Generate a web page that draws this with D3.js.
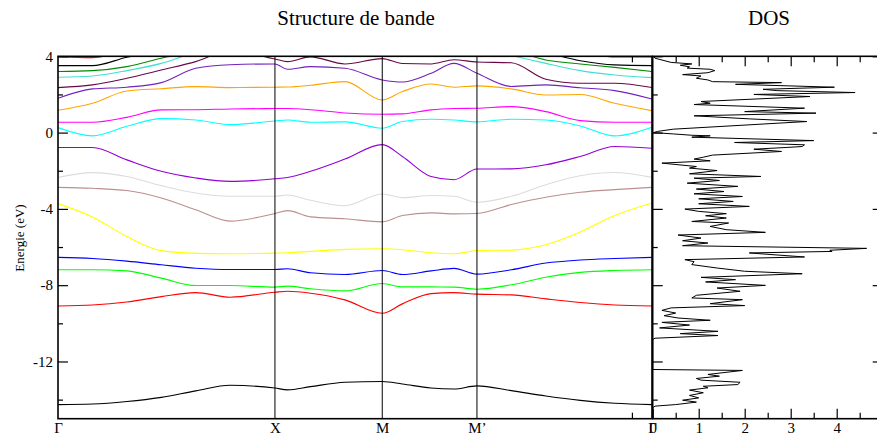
<!DOCTYPE html>
<html>
<head>
<meta charset="utf-8">
<script src="https://cdn.jsdelivr.net/npm/d3@7"></script>
<style>
body { margin: 0; background: #fff; }
</style>
</head>
<body>
<svg id="chart" width="877" height="439"></svg>
<script>
// k-path positions of the high symmetry points
var kLabelNames = ["Γ", "X", "M", "M’", "Γ"];
var kLabelPos = [0, 0.378, 0.565, 0.73, 1.035];

// k grid shared by all bands
var kPoints = [0, 0.06, 0.12, 0.18, 0.24, 0.30, 0.378, 0.40, 0.44, 0.50, 0.565, 0.60, 0.65, 0.69, 0.73, 0.79, 0.85, 0.91, 0.97, 1.035];

// band energies (eV), bottom to top
var band01 = [-14.26, -14.23, -14.10, -13.88, -13.54, -13.25, -13.39, -13.49, -13.32, -13.09, -13.05, -13.18, -13.39, -13.44, -13.28, -13.53, -13.81, -14.04, -14.19, -14.26];
var band02 = [-9.09, -9.04, -8.88, -8.60, -8.39, -8.63, -8.37, -8.32, -8.42, -8.77, -9.47, -8.98, -8.44, -8.39, -8.47, -8.51, -8.72, -8.91, -9.04, -9.09];
var band03 = [-7.19, -7.19, -7.25, -7.63, -8.02, -8.02, -8.10, -8.05, -8.19, -8.30, -7.91, -8.09, -8.09, -8.10, -8.21, -7.98, -7.58, -7.33, -7.23, -7.19];
var band04 = [-6.54, -6.60, -6.74, -6.93, -7.11, -7.18, -7.18, -7.14, -7.35, -7.44, -7.23, -7.44, -7.25, -7.12, -7.42, -7.19, -6.84, -6.68, -6.60, -6.54];
var band05 = [-3.72, -4.42, -5.45, -6.19, -6.33, -6.35, -6.32, -6.30, -6.23, -6.12, -6.09, -6.14, -6.30, -6.35, -6.18, -6.16, -5.88, -5.21, -4.35, -3.69];
var band06 = [-2.87, -2.92, -3.04, -3.43, -4.05, -4.64, -4.24, -4.09, -4.42, -4.52, -4.68, -4.35, -4.21, -4.26, -4.24, -3.77, -3.39, -3.13, -2.99, -2.87];
var band07 = [-2.35, -2.10, -2.30, -2.78, -3.17, -3.34, -3.34, -3.27, -3.55, -3.83, -3.22, -3.41, -3.30, -3.34, -3.65, -3.34, -2.73, -2.26, -2.09, -2.35];
var band08 = [-0.78, -0.78, -1.43, -2.03, -2.38, -2.56, -2.42, -2.35, -2.03, -1.39, -0.63, -1.25, -2.30, -2.47, -1.91, -1.90, -1.69, -1.25, -0.73, -0.82];
var band09 = [0.26, -0.17, 0.33, 0.73, 0.66, 0.42, 0.61, 0.66, 0.54, 0.56, 0.23, 0.58, 0.70, 0.66, 0.56, 0.70, 0.66, 0.35, -0.17, 0.28];
var band10 = [0.54, 0.54, 0.80, 1.19, 1.20, 1.24, 1.26, 1.26, 1.20, 1.03, 0.96, 0.98, 1.19, 1.26, 1.28, 1.36, 1.10, 0.63, 0.54, 0.54];
var band11 = [1.17, 1.54, 2.18, 2.30, 2.41, 2.36, 2.38, 2.39, 2.48, 2.67, 1.71, 2.15, 2.55, 2.38, 2.45, 2.29, 1.97, 2.00, 1.54, 1.15];
var band12 = [1.80, 2.29, 2.38, 2.62, 3.37, 3.56, 3.60, 3.32, 3.46, 3.37, 2.76, 2.65, 3.11, 3.63, 3.11, 2.42, 2.50, 2.35, 2.20, 1.76];
var band13 = [2.36, 2.50, 2.85, 3.28, 3.72, 4.30, 3.86, 3.72, 3.97, 3.60, 3.88, 3.62, 3.60, 3.82, 3.70, 3.66, 2.80, 2.59, 2.59, 2.36];
var band14 = [2.90, 2.97, 3.25, 3.63, 4.20, 4.50, 4.70, 4.80, 4.80, 4.80, 4.90, 4.80, 4.70, 4.60, 4.50, 4.05, 3.63, 3.25, 3.02, 2.88];
var band15 = [3.20, 3.25, 3.46, 3.90, 4.30, 4.60, 4.80, 4.90, 4.90, 5.00, 5.00, 5.00, 4.90, 4.70, 4.50, 4.30, 3.81, 3.60, 3.42, 3.20];
var band16 = [3.51, 3.51, 3.95, 4.30, 4.60, 4.80, 5.00, 5.00, 5.00, 5.10, 5.20, 5.10, 5.00, 4.90, 4.80, 4.60, 4.20, 3.77, 3.55, 3.51];
var band17 = [3.97, 3.93, 4.30, 4.60, 4.90, 5.10, 5.30, 5.30, 5.30, 5.40, 5.50, 5.40, 5.30, 5.20, 5.10, 4.90, 4.60, 4.30, 3.96, 3.97];

var bands = [band01, band02, band03, band04, band05, band06, band07, band08, band09,
             band10, band11, band12, band13, band14, band15, band16, band17];

// grace colour cycle
var bandColors = ["#000000", "#ff0000", "#00ff00", "#0000ff", "#ffff00", "#bc8f8f", "#dcdcdc", "#9400d3",
                  "#00ffff", "#ff00ff", "#ffa500", "#7221bc", "#670748", "#40e0d0", "#008b00", "#000000", "#ff0000"];

// density of states
var dosEnergy = [4.0, 3.9, 3.68, 3.60, 3.53, 3.45, 3.38, 3.32, 3.25, 3.14, 3.04, 2.97, 2.85, 2.76, 2.67, 2.62, 2.53, 2.38, 2.27, 2.20,
  2.10, 2.00, 1.89, 1.63, 1.54, 1.47, 1.28, 1.10, 1.02, 0.88, 0.72, 0.58, 0.18, 0.06, 0.0, -0.07, -0.14, -0.17, -0.24, -0.42,
  -0.52, -0.64, -0.73, -0.78, -0.87, -0.99, -1.18, -1.29, -1.39, -1.48, -1.60, -1.78, -1.86, -1.99, -2.16, -2.30, -2.39, -2.51, -2.65, -2.82,
  -2.96, -3.09, -3.21, -3.35, -3.47, -3.61, -3.73, -3.87, -4.01, -4.13, -4.25, -4.36, -4.48, -4.66, -4.74, -4.92, -5.09, -5.23, -5.37, -5.53,
  -5.67, -5.79, -5.93, -6.07, -6.17, -6.23, -6.31, -6.52, -6.66, -6.77, -6.92, -7.10, -7.27, -7.40, -7.59, -7.71, -7.83, -8.01, -8.15, -8.32,
  -8.53, -8.67, -8.76, -8.97, -9.07, -9.19, -9.32, -9.46, -9.60, -9.72, -9.84, -9.95, -10.09, -10.24, -10.42, -10.54, -10.64, -10.78, -10.85, -12.42,
  -12.47, -12.68, -12.77, -12.89, -12.98, -13.09, -13.21, -13.30, -13.38, -13.50, -13.64, -13.78, -13.91, -14.03, -14.13, -14.26, -14.34, -14.43, -15.0];
var dosStates = [0.02, 0.05, 0.40, 0.85, 0.60, 0.80, 0.75, 1.25, 1.35, 1.20, 0.65, 1.05, 0.95, 1.20, 1.30, 2.80, 1.80, 3.95, 2.40, 2.70,
  4.40, 2.20, 3.42, 1.05, 1.25, 0.90, 3.30, 2.00, 3.55, 0.90, 2.10, 3.35, 0.45, 0.10, 0.02, 0.45, 0.85, 1.25, 0.85, 3.50,
  1.78, 3.30, 3.25, 2.90, 2.20, 2.80, 1.30, 1.10, 0.90, 1.25, 0.20, 0.95, 0.80, 1.40, 0.80, 2.35, 0.90, 1.45, 0.75, 1.85,
  0.95, 1.55, 0.90, 1.95, 1.00, 1.75, 1.00, 2.10, 0.70, 1.00, 1.60, 1.15, 1.60, 0.85, 1.65, 1.25, 1.60, 2.45, 0.55, 1.05,
  0.65, 1.20, 0.65, 4.65, 3.85, 3.90, 2.10, 3.30, 0.70, 0.90, 0.85, 1.40, 2.00, 3.25, 1.05, 1.80, 1.15, 2.45, 1.40, 1.90,
  0.95, 0.85, 1.95, 1.25, 2.00, 0.40, 0.20, 0.50, 0.25, 0.55, 1.25, 0.20, 0.80, 0.15, 1.42, 0.60, 1.42, 0.05, 0.0, 0.0,
  1.95, 1.20, 1.45, 0.95, 1.05, 1.90, 1.85, 1.10, 1.20, 0.80, 1.10, 0.80, 1.00, 0.65, 0.95, 0.50, 0.05, 0.0, 0.0];

// axis ticks
var energyTicks = [-12, -8, -4, 0, 4];
var energyMinor = [-14, -10, -6, -2, 2];
var dosTicks = [0, 1, 2, 3, 4];
var dosMinor = [0.5, 1.5, 2.5, 3.5, 4.5];
var kTicks = [1.0];

var serif = "'Liberation Serif', 'DejaVu Serif', 'Times New Roman', serif";

var svg = d3.select("#chart").attr("font-family", serif);
svg.append("rect").attr("width", 877).attr("height", 439).attr("fill", "#fff");

var plotTop = 56.3, plotBottom = 418.7;
var bandLeft = 58, bandRight = 652;
var dosLeft = 652.7, dosRight = 882.7;

var k = d3.scaleLinear().domain([0, 1.035]).range([bandLeft, bandRight]);
var e = d3.scaleLinear().domain([-15, 4]).range([plotBottom, plotTop]);
var dos = d3.scaleLinear().domain([0, 5]).range([dosLeft, dosRight]);

var defs = svg.append("defs");
defs.append("clipPath").attr("id", "clip-band")
    .append("rect").attr("x", bandLeft).attr("y", plotTop)
    .attr("width", bandRight - bandLeft).attr("height", plotBottom - plotTop);
defs.append("clipPath").attr("id", "clip-dos")
    .append("rect").attr("x", dosLeft).attr("y", plotTop)
    .attr("width", dosRight - dosLeft).attr("height", plotBottom - plotTop);

// bands
var bandLine = d3.line()
    .x(function(v, i) { return k(kPoints[i]); })
    .y(function(v) { return e(v); })
    .curve(d3.curveMonotoneX);

var gBands = svg.append("g").attr("clip-path", "url(#clip-band)");
gBands.selectAll("path.band")
    .data(bands)
    .enter()
    .append("path")
    .attr("class", "band")
    .attr("d", bandLine)
    .attr("fill", "none")
    .attr("stroke", function(d, i) { return bandColors[i]; })
    .attr("stroke-width", 1.1);

// vertical lines at X, M, M'
svg.selectAll("line.sym")
    .data(kLabelPos.slice(1, 4))
    .enter()
    .append("line")
    .attr("class", "sym")
    .attr("x1", function(d) { return k(d); })
    .attr("x2", function(d) { return k(d); })
    .attr("y1", plotTop)
    .attr("y2", plotBottom)
    .attr("stroke", "#000")
    .attr("stroke-width", 1);

// dos curve
var dosLine = d3.line()
    .x(function(v, i) { return dos(dosStates[i]); })
    .y(function(v) { return e(v); });

svg.append("g").attr("clip-path", "url(#clip-dos)")
    .append("path")
    .attr("d", dosLine(dosEnergy))
    .attr("fill", "none")
    .attr("stroke", "#000")
    .attr("stroke-width", 1);

function styleAxis(g, size) {
    g.select(".domain").remove();
    g.attr("font-family", serif).attr("font-size", size);
    g.selectAll(".tick line").attr("stroke", "#000").attr("stroke-width", 1.2);
    g.selectAll(".tick text").attr("fill", "#000").attr("font-family", serif);
}

// band panel y axis
svg.append("g").attr("transform", "translate(" + bandLeft + ",0)")
    .call(d3.axisLeft(e).tickValues(energyTicks).tickSize(-10).tickPadding(5)
        .tickFormat(function(d) { return String(d); }))
    .call(styleAxis, 15);
svg.append("g").attr("transform", "translate(" + bandLeft + ",0)")
    .call(d3.axisLeft(e).tickValues(energyMinor).tickSize(-5).tickFormat(""))
    .call(styleAxis, 15);

// band panel top / bottom
svg.append("g").attr("transform", "translate(0," + plotTop + ")")
    .call(d3.axisTop(k).tickValues(kTicks).tickSize(-6).tickFormat(""))
    .call(styleAxis, 15);
svg.append("g").attr("transform", "translate(0," + plotBottom + ")")
    .call(d3.axisBottom(k).tickValues(kTicks).tickSize(-6).tickFormat(""))
    .call(styleAxis, 15);
svg.append("g").attr("transform", "translate(0," + plotBottom + ")")
    .call(d3.axisBottom(k).tickValues(kLabelPos).tickSize(0).tickPadding(4)
        .tickFormat(function(d, i) { return kLabelNames[i]; }))
    .call(styleAxis, 15);

// dos y axes (no labels)
svg.append("g").attr("transform", "translate(" + dosLeft + ",0)")
    .call(d3.axisRight(e).tickValues(energyTicks).tickSize(10).tickFormat(""))
    .call(styleAxis, 15);
svg.append("g").attr("transform", "translate(" + dosLeft + ",0)")
    .call(d3.axisRight(e).tickValues(energyMinor).tickSize(5).tickFormat(""))
    .call(styleAxis, 15);
svg.append("g").attr("transform", "translate(" + dosRight + ",0)")
    .call(d3.axisLeft(e).tickValues(energyTicks).tickSize(10).tickFormat(""))
    .call(styleAxis, 15);
svg.append("g").attr("transform", "translate(" + dosRight + ",0)")
    .call(d3.axisLeft(e).tickValues(energyMinor).tickSize(5).tickFormat(""))
    .call(styleAxis, 15);

// dos x axes
svg.append("g").attr("transform", "translate(0," + plotTop + ")")
    .call(d3.axisTop(dos).tickValues(dosTicks.slice(1)).tickSize(-10).tickFormat(""))
    .call(styleAxis, 15);
svg.append("g").attr("transform", "translate(0," + plotTop + ")")
    .call(d3.axisTop(dos).tickValues(dosMinor).tickSize(-6).tickFormat(""))
    .call(styleAxis, 15);
svg.append("g").attr("transform", "translate(0," + plotBottom + ")")
    .call(d3.axisBottom(dos).tickValues(dosTicks).tickSize(-10).tickPadding(4)
        .tickFormat(function(d) { return String(d); }))
    .call(styleAxis, 15);
svg.append("g").attr("transform", "translate(0," + plotBottom + ")")
    .call(d3.axisBottom(dos).tickValues(dosMinor).tickSize(-6).tickFormat(""))
    .call(styleAxis, 15);

// frames
svg.append("rect")
    .attr("x", bandLeft).attr("y", plotTop)
    .attr("width", bandRight - bandLeft).attr("height", plotBottom - plotTop)
    .attr("fill", "none").attr("stroke", "#000").attr("stroke-width", 1.6);
svg.append("rect")
    .attr("x", dosLeft).attr("y", plotTop)
    .attr("width", dosRight - dosLeft).attr("height", plotBottom - plotTop)
    .attr("fill", "none").attr("stroke", "#000").attr("stroke-width", 1.6);

// titles
svg.append("text")
    .attr("x", 356).attr("y", 25)
    .attr("text-anchor", "middle")
    .attr("font-family", serif)
    .attr("font-size", 21)
    .text("Structure de bande");
svg.append("text")
    .attr("x", 769).attr("y", 25)
    .attr("text-anchor", "middle")
    .attr("font-family", serif)
    .attr("font-size", 21)
    .text("DOS");

svg.append("text")
    .attr("transform", "translate(24,238) rotate(-90)")
    .attr("text-anchor", "middle")
    .attr("font-family", serif)
    .attr("font-size", 13)
    .text("Energie (eV)");
</script>
</body>
</html>
